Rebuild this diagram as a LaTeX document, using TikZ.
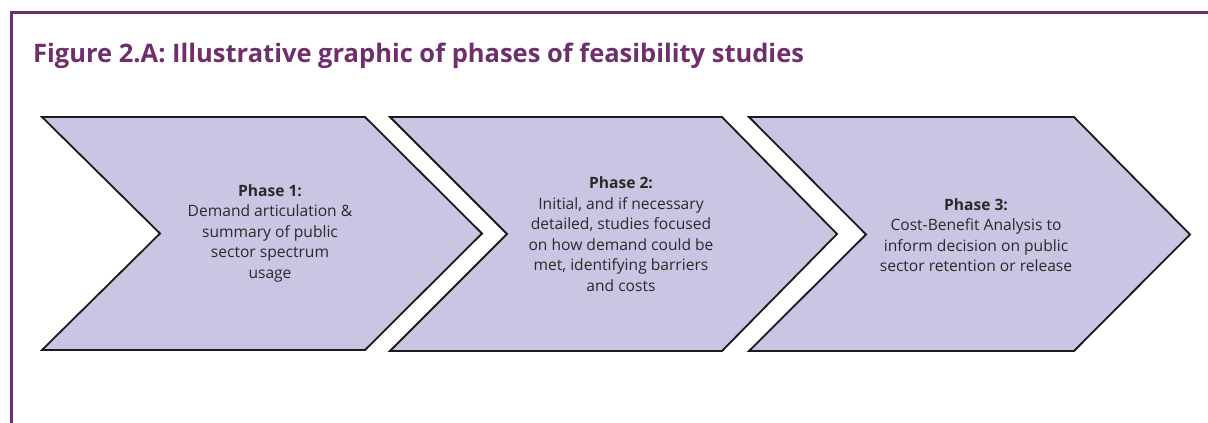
\documentclass[tikz,border=0pt]{standalone}
\usepackage{fontspec}
\setmainfont{Open Sans}
\definecolor{framepurple}{HTML}{6E2F6C}
\definecolor{chevfill}{HTML}{CBC4E2}
\definecolor{chevline}{HTML}{1A1A1A}
\definecolor{bodytext}{HTML}{2A2A2A}
\tikzset{
  chevron/.style={fill=chevfill, draw=chevline, line width=1.8pt, line join=miter},
  phasetext/.style={align=center, text=bodytext, font=\fontsize{15.6}{20.5}\selectfont, inner sep=0pt},
  framerule/.style={draw=framepurple, line width=3pt}
}
\begin{document}
\begin{tikzpicture}[x=1pt,y=-1pt]
\useasboundingbox (0,0) rectangle (1208,423);
\fill[white] (0,0) rectangle (1208,423);
% frame
\draw[framerule] (11,423) -- (11,12) -- (1208,12);
% title
\node[anchor=base west, inner sep=0pt, text=framepurple, font=\fontsize{25.5}{30}\selectfont\bfseries] (title) at (33,62) {Figure 2.A: Illustrative graphic of phases of feasibility studies};
% chevrons
\draw[chevron] (42,117) -- (365,117) -- (482,233.5) -- (365,350) -- (42,350) -- (160,233.5) -- cycle;
\draw[chevron] (390,117) -- (722,117) -- (837,234) -- (722,351) -- (390,351) -- (507,234) -- cycle;
\draw[chevron] (749,117) -- (1074,117) -- (1190,234.5) -- (1074,351) -- (749,351) -- (866,234.5) -- cycle;
% texts
\node[phasetext] (p1) at (270,233) {\textbf{Phase 1:}\\Demand articulation \&\\summary of public\\sector spectrum\\usage};
\node[phasetext] (p2) at (621,234) {\textbf{Phase 2:}\\Initial, and if necessary\\detailed, studies focused\\on how demand could be\\met, identifying barriers\\and costs};
\node[phasetext] (p3) at (976,235) {\textbf{Phase 3:}\\Cost-Benefit Analysis to\\inform decision on public\\sector retention or release};
\end{tikzpicture}
\end{document}
